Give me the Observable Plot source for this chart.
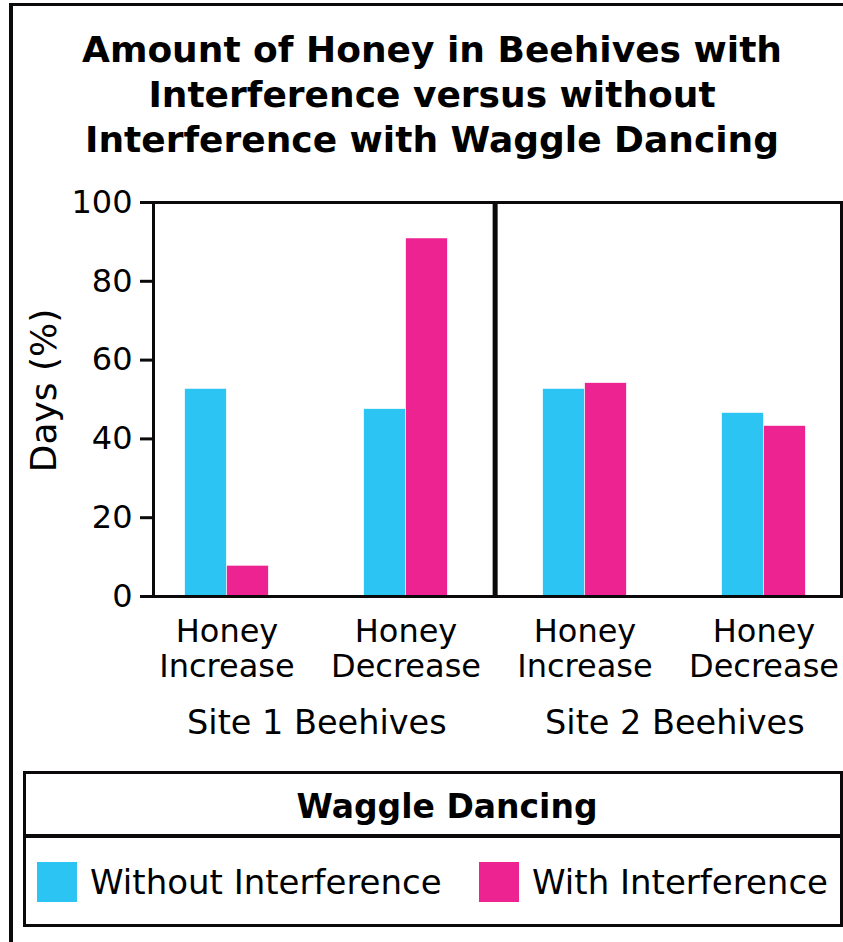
<!DOCTYPE html>
<html>
<head>
<meta charset="utf-8">
<script src="https://cdn.jsdelivr.net/npm/d3@7"></script>
<script src="https://cdn.jsdelivr.net/npm/@observablehq/plot@0.6"></script>
<style>
  html, body { margin: 0; padding: 0; background: #fff; }
  #wrap { position: relative; width: 843px; height: 942px; overflow: hidden; background: #fff;
          font-family: "DejaVu Sans", Verdana, sans-serif; color: #000; }
  #border-top { position: absolute; left: 9px; top: 3px; width: 834px; height: 3px; background: #0b0909; }
  #border-left { position: absolute; left: 9px; top: 3px; width: 4px; height: 939px; background: #0b0909; }
  #title { position: absolute; left: 12px; width: 840px; top: 27px; text-align: center;
           font-weight: bold; font-size: 36px; line-height: 45px; }
  #chart { position: absolute; left: 0; top: 180px; }
  #legend { position: absolute; left: 23px; top: 771px; width: 814px; height: 150px;
            border: 3px solid #0b0909; }
  #legend .head { position: absolute; left: 0; top: 0; width: 100%; height: 64px;
                  border-bottom: 4px solid #0b0909; font-weight: bold; font-size: 33px;
                  line-height: 66px; text-align: center; padding-left: 28px; box-sizing: border-box; }
  #legend .item { position: absolute; top: 88px; height: 40px; display: flex; align-items: center;
                  font-size: 34px; white-space: nowrap; }
  #legend .sw { width: 40px; height: 40px; margin-right: 13px; flex: none; }
</style>
</head>
<body>
<div id="wrap">
  <div id="border-top"></div>
  <div id="border-left"></div>
  <div id="title"></div>
  <div id="chart"></div>
  <div id="legend"></div>
</div>
<script>
// ---- data ----
const titleLines = ["Amount of Honey in Beehives with", "Interference versus without", "Interference with Waggle Dancing"];
const sites = ["Site 1 Beehives", "Site 2 Beehives"];
const categories = ["Honey Increase", "Honey Decrease"];
// order: Site 1 Increase, Site 1 Decrease, Site 2 Increase, Site 2 Decrease
const withoutInterference = [52.6, 47.5, 52.6, 46.5];
const withInterference = [7.7, 90.8, 54.1, 43.2];
const seriesNames = ["Without Interference", "With Interference"];
const seriesColors = ["#2cc4f2", "#ec2390"];
const yTicks = [0, 20, 40, 60, 80, 100];
const yLabel = "Days (%)";
const legendTitle = "Waggle Dancing";

// ---- build table ----
const rows = [];
sites.forEach((site, i) => categories.forEach((cat, j) => {
  const k = i * categories.length + j;
  rows.push({key: site + "|" + cat, site, category: cat,
             without: withoutInterference[k], with: withInterference[k]});
}));
const keys = rows.map(d => d.key);
const siteRows = sites.map(s => rows.find(d => d.site === s));

// layout constants
const halfStep = 89.86;
const barW = 42;

document.getElementById("title").innerHTML = titleLines.join("<br>");

const chart = Plot.plot({
  width: 843,
  height: 570,
  marginTop: 22,
  marginBottom: 154,
  marginLeft: 153,
  marginRight: 2,
  style: {fontFamily: "'DejaVu Sans', Verdana, sans-serif", fontSize: "30px", color: "#000", background: "transparent", overflow: "visible"},
  x: {type: "band", domain: keys, paddingInner: 0, paddingOuter: -0.086, align: 0.58, axis: null},
  y: {domain: [0, 100], axis: null},
  marks: [
    Plot.barY(rows, {x: "key", y: "without", fill: seriesColors[0], insetLeft: halfStep - barW, insetRight: halfStep}),
    Plot.barY(rows, {x: "key", y: "with", fill: seriesColors[1], insetLeft: halfStep, insetRight: halfStep - barW}),
    Plot.frame({stroke: "#0b0909", strokeWidth: 3}),
    Plot.ruleX([keys[2]], {x: d => d, dx: -halfStep, stroke: "#0b0909", strokeWidth: 5}),
    Plot.axisY({ticks: yTicks, tickSize: 13, tickPadding: 8, strokeWidth: 3, label: null, fontSize: 32, stroke: "#0b0909"}),
    Plot.text(rows, {x: "key", text: d => d.category.replace(" ", "\n"), frameAnchor: "bottom", lineAnchor: "top", dy: 20, lineHeight: 1.1, fontSize: 32, fill: "#000"}),
    Plot.text(siteRows, {x: "key", text: "site", frameAnchor: "bottom", lineAnchor: "middle", dx: halfStep, dy: 127, fontSize: 33.5, fill: "#000"}),
    Plot.text([yLabel], {text: d => d, frameAnchor: "left", textAnchor: "middle", lineAnchor: "middle", rotate: -90, dx: -109, dy: -9, fontSize: 36, fill: "#000"})
  ]
});
document.getElementById("chart").appendChild(chart);

// legend
const legend = document.getElementById("legend");
const head = document.createElement("div");
head.className = "head";
head.textContent = legendTitle;
legend.appendChild(head);
const itemLeft = [11, 453];
seriesNames.forEach((name, i) => {
  const it = document.createElement("div");
  it.className = "item";
  it.style.left = itemLeft[i] + "px";
  const sw = document.createElement("div");
  sw.className = "sw";
  sw.style.background = seriesColors[i];
  const tx = document.createElement("span");
  tx.textContent = name;
  it.appendChild(sw);
  it.appendChild(tx);
  legend.appendChild(it);
});
</script>
</body>
</html>
